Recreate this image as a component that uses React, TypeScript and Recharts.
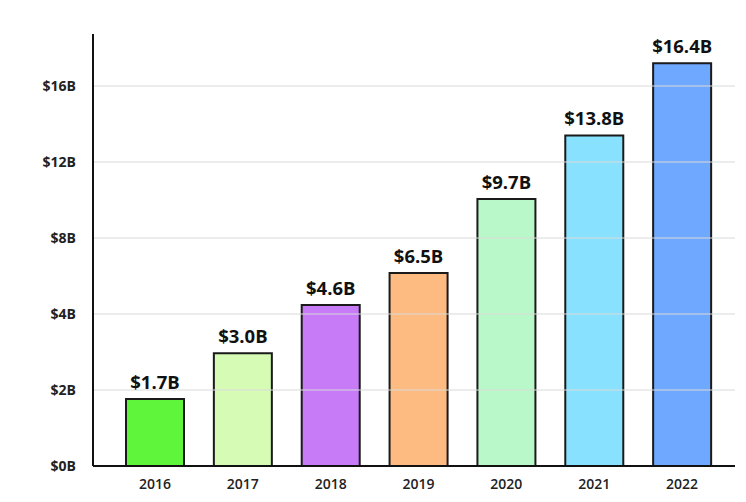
import { BarChart, Bar, XAxis, YAxis, Cell, LabelList, ReferenceLine } from 'recharts';

const years = ['2016', '2017', '2018', '2019', '2020', '2021', '2022'];
// bar heights in $B
const revenue = [1.76, 2.97, 4.47, 6.16, 10.05, 13.4, 17.2];
const valueLabels = ['$1.7B', '$3.0B', '$4.6B', '$6.5B', '$9.7B', '$13.8B', '$16.4B'];
const barColors = ['#5ef53a', '#d6fbb4', '#c77bf7', '#fdbb82', '#b9f9c9', '#88e2ff', '#6fa8ff'];
const tickValues = [0, 2, 4, 8, 12, 16];

// axis is stretched below $4B: 0-4 runs in $2B steps, above that in $4B steps
const toAxis = (v: number) => (v <= 4 ? v / 2 : 2 + (v - 4) / 4);
const fromAxis = (p: number) => (p <= 2 ? p * 2 : 4 + (p - 2) * 4);

const data = years.map((year, i) => ({
  year,
  pos: toAxis(revenue[i]),
  label: valueLabels[i],
}));

const font = '"Open Sans", "Noto Sans", sans-serif';

export default function App() {
  return (
    <div style={{ position: 'absolute', left: 0, top: 0, width: 746, height: 502, background: '#fff' }}>
      <BarChart
        width={746}
        height={502}
        data={data}
        margin={{ top: 34, right: 11, bottom: 6, left: 0 }}
        style={{ fontFamily: font }}
      >
        {tickValues.slice(1).map((v) => (
          <ReferenceLine key={v} y={toAxis(v)} stroke="#d9d9d9" strokeWidth={1.2} />
        ))}
        <XAxis
          dataKey="year"
          height={30}
          padding={{ left: 18, right: 9 }}
          axisLine={{ stroke: '#111', strokeWidth: 2 }}
          tickLine={false}
          tickSize={0}
          tickMargin={13}
          tick={{ fill: '#222', fontSize: 14, fontWeight: 600, fontFamily: font }}
        />
        <YAxis
          width={93}
          type="number"
          domain={[0, 5.684]}
          ticks={tickValues.map(toAxis)}
          tickFormatter={(p: number) => `$${Math.round(fromAxis(p))}B`}
          axisLine={{ stroke: '#111', strokeWidth: 2 }}
          tickLine={false}
          tickSize={0}
          tickMargin={17}
          tick={{ fill: '#222', fontSize: 14, fontWeight: 700, fontFamily: font }}
        />
        <Bar dataKey="pos" barSize={58} stroke="#1a1a1a" strokeWidth={2} isAnimationActive={false}>
          {data.map((d, i) => (
            <Cell key={d.year} fill={barColors[i]} />
          ))}
          <LabelList
            dataKey="label"
            position="top"
            offset={10}
            style={{ fill: '#111', fontSize: 18.5, fontWeight: 700, fontFamily: font }}
          />
        </Bar>
      </BarChart>
    </div>
  );
}
